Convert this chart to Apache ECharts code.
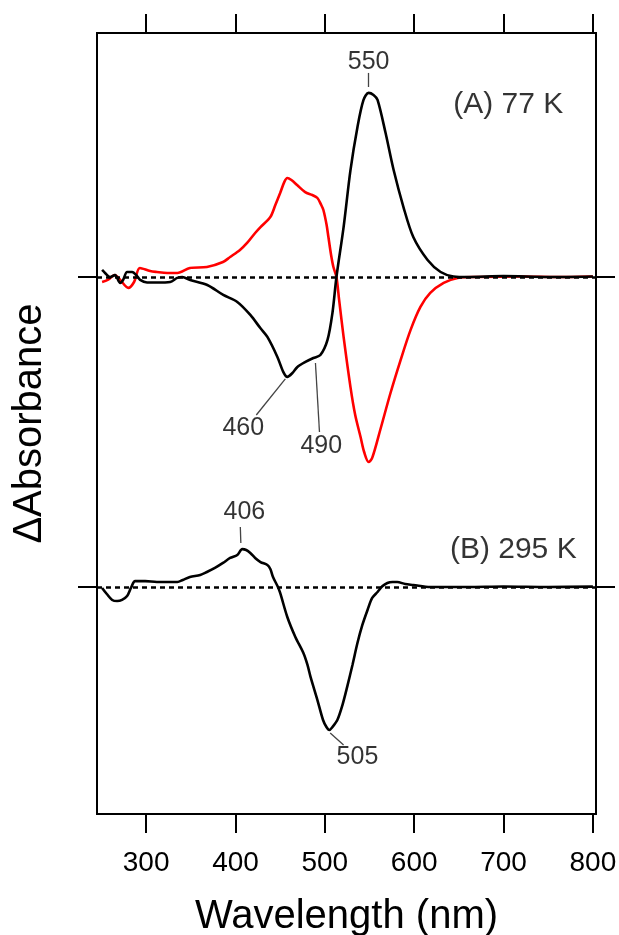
<!DOCTYPE html>
<html>
<head>
<meta charset="utf-8">
<script src="https://cdn.jsdelivr.net/npm/echarts@6/dist/echarts.min.js"></script>
<style>
html,body{margin:0;padding:0;background:#fff}
#chart{width:619px;height:935px}
</style>
</head>
<body>
<div id="chart"></div>
<script>
var FONT = '"Liberation Sans", Arial, sans-serif';

// tick labels of the wavelength axis
var xTicks = [300, 400, 500, 600, 700, 800];

// (A) 77 K, black trace
var blackA_nm = [250.7,254,259.6,265.2,270.9,274.2,278.7,284.3,289.9,293.3,301,312.3,326.9,334.8,340.4,349.3,368.4,386.3,402,416.6,427.8,435.7,446.9,453.6,458,463.7,469.3,478.3,487.2,495,503,508.5,513,521,528.7,536.5,543.3,549,554.5,559,568,577,588,599,615,629.6,644,660,700,750,800];
var blackA_val = [0.038,0.022,0,0.01,-0.032,-0.016,0.027,0.027,0.005,-0.016,-0.03,-0.03,-0.027,-0.005,0,-0.016,-0.043,-0.097,-0.135,-0.205,-0.276,-0.324,-0.432,-0.514,-0.54,-0.519,-0.486,-0.459,-0.438,-0.422,-0.34,-0.195,0,0.27,0.578,0.81,0.957,0.995,0.984,0.957,0.778,0.578,0.378,0.216,0.092,0.027,0.003,0,0.005,0,0.003];

// (A) 77 K, red trace
var redA_nm = [250.7,257,265,271,280,286.5,293,304.5,312,323.5,335,349,368,386,394,405,413,422,428,439,444.6,450,454.7,458,462.6,469,478,486,491.7,496,498.4,502,504,507,509.6,513,516,521,528.7,534,540,544,549,553,562,573.5,584.8,596,607,618,633,648.7,670,720,760,800];
var redA_val = [-0.027,-0.016,0.011,-0.016,-0.059,-0.027,0.049,0.032,0.027,0.022,0.022,0.049,0.054,0.081,0.108,0.146,0.184,0.238,0.27,0.324,0.389,0.454,0.514,0.535,0.524,0.497,0.459,0.443,0.427,0.389,0.362,0.281,0.216,0.119,0.054,0,-0.124,-0.324,-0.595,-0.746,-0.865,-0.946,-1.0,-0.978,-0.827,-0.627,-0.449,-0.286,-0.162,-0.086,-0.032,-0.005,0,0.003,0,0.003];

// (B) 295 K, black trace
var blackB_nm = [250.7,256,262,267.5,273,278.7,283,287.7,299,312,323.5,335,341,349,360.5,368,377,386,394,402,407.6,412,416.6,422,428,435.7,439,442,447,450,458,467,476,480.5,484,491.7,498,501.8,505,508.5,514,519.7,525,531,536.5,542,547.8,553,559,564.6,570,575.8,581,590,599,618,660,700,750,800];
var blackB_val = [-0.005,-0.038,-0.07,-0.076,-0.07,-0.049,-0.005,0.032,0.032,0.027,0.027,0.027,0.038,0.054,0.065,0.081,0.103,0.13,0.157,0.173,0.205,0.2,0.184,0.157,0.135,0.119,0.097,0.054,0.005,-0.032,-0.162,-0.27,-0.357,-0.42,-0.486,-0.611,-0.719,-0.757,-0.773,-0.757,-0.719,-0.638,-0.54,-0.42,-0.303,-0.205,-0.124,-0.059,-0.027,0.005,0.022,0.027,0.027,0.016,0.011,0,0,0.003,0,0.002];

// peak labels: [nm, value, text]
var labelsA = [[549, 1.162, '550'], [408.7, -0.816, '460'], [496, -0.914, '490']];
var labelsB = [[410, 0.405, '406'], [536.5, -0.919, '505']];
// leader lines: [nm1, v1, nm2, v2]
var leadersA = [[549, 1.027, 549, 1.103], [423.3, -0.746, 455.8, -0.551], [489.5, -0.465, 494, -0.838]];
var leadersB = [[405.4, 0.324, 406, 0.238], [506, -0.789, 521, -0.854]];
// panel titles
var titleA = [[643.6, 0.93, '(A) 77 K']];
var titleB = [[640, 0.2, '(B) 295 K']];

var yRangeA = [-2.9027, 1.3189];
var yRangeB = [-1.227, 2.9946];

function zip(a, b) {
  var out = [];
  for (var i = 0; i < a.length; i++) out.push([a[i], b[i]]);
  return out;
}

function leaderData(arr) {
  return arr.map(function (l) {
    return [{coord: [l[0], l[1]]}, {coord: [l[2], l[3]]}];
  });
}

var zeroLine = {
  silent: true,
  symbol: ['none', 'none'],
  label: {show: false},
  lineStyle: {type: [5, 4], color: '#000', width: 2.5},
  emphasis: {disabled: true},
  data: [{yAxis: 0}]
};

function xAxisCfg(pos, showLabel) {
  return {
    type: 'value', position: pos, min: 245, max: 803.5,
    axisLine: {show: true, onZero: false, lineStyle: {color: '#000', width: 2}},
    axisTick: {show: true, inside: false, length: 19, customValues: xTicks, lineStyle: {color: '#000', width: 2}},
    axisLabel: {show: showLabel, customValues: xTicks, color: '#000', fontSize: 28, fontFamily: FONT, margin: 35},
    splitLine: {show: false}
  };
}

function yAxisCfg(pos, range) {
  return {
    type: 'value', position: pos, min: range[0], max: range[1],
    axisLine: {show: true, onZero: false, lineStyle: {color: '#000', width: 2}},
    axisTick: {show: true, inside: false, length: 19, customValues: [0], lineStyle: {color: '#000', width: 2}},
    axisLabel: {show: false},
    splitLine: {show: false}
  };
}

var xBottom = xAxisCfg('bottom', true);
xBottom.name = 'Wavelength (nm)';
xBottom.nameLocation = 'middle';
xBottom.nameGap = 83;
xBottom.nameTextStyle = {fontSize: 40, color: '#000', fontFamily: FONT};

var yLeftA = yAxisCfg('left', yRangeA);
yLeftA.name = '\u0394Absorbance';
yLeftA.nameLocation = 'middle';
yLeftA.nameGap = 47;
yLeftA.nameTextStyle = {fontSize: 40, color: '#000', fontFamily: FONT};

var textLabel = function (size) {
  return {
    show: true, position: 'inside', color: '#000', fontSize: size, fontFamily: FONT,
    formatter: function (p) { return p.value[2]; }
  };
};

var option = {
  animation: false,
  backgroundColor: '#fff',
  grid: {left: 97, right: 23, top: 33, bottom: 121, containLabel: false, outerBoundsMode: 'none'},
  xAxis: [xBottom, xAxisCfg('top', false)],
  yAxis: [yLeftA, yAxisCfg('left', yRangeB), yAxisCfg('right', yRangeA), yAxisCfg('right', yRangeB)],
  series: [
    {
      name: 'A black', type: 'line', xAxisIndex: 0, yAxisIndex: 0,
      data: zip(blackA_nm, blackA_val), showSymbol: false, smooth: 0.3,
      lineStyle: {color: '#000', width: 2.6}, z: 3,
      markLine: zeroLine
    },
    {
      name: 'A red', type: 'line', xAxisIndex: 0, yAxisIndex: 0,
      data: zip(redA_nm, redA_val), showSymbol: false, smooth: 0.3,
      lineStyle: {color: '#ff0000', width: 2.6}, z: 2
    },
    {
      name: 'B black', type: 'line', xAxisIndex: 0, yAxisIndex: 1,
      data: zip(blackB_nm, blackB_val), showSymbol: false, smooth: 0.3,
      lineStyle: {color: '#000', width: 2.6}, z: 3,
      markLine: zeroLine
    },
    {
      name: 'A labels', type: 'scatter', xAxisIndex: 0, yAxisIndex: 0,
      symbolSize: 0, data: labelsA, label: textLabel(25), silent: true,
      markLine: {
        silent: true, symbol: ['none', 'none'], label: {show: false},
        lineStyle: {type: 'solid', color: '#444', width: 1.3},
        data: leaderData(leadersA)
      }
    },
    {
      name: 'B labels', type: 'scatter', xAxisIndex: 0, yAxisIndex: 1,
      symbolSize: 0, data: labelsB, label: textLabel(25), silent: true,
      markLine: {
        silent: true, symbol: ['none', 'none'], label: {show: false},
        lineStyle: {type: 'solid', color: '#444', width: 1.3},
        data: leaderData(leadersB)
      }
    },
    {
      name: 'A title', type: 'scatter', xAxisIndex: 0, yAxisIndex: 0,
      symbolSize: 0, data: titleA, silent: true,
      label: {show: true, position: 'right', distance: 0, color: '#000', fontSize: 30, fontFamily: FONT,
        formatter: function (p) { return p.value[2]; }}
    },
    {
      name: 'B title', type: 'scatter', xAxisIndex: 0, yAxisIndex: 1,
      symbolSize: 0, data: titleB, silent: true,
      label: {show: true, position: 'right', distance: 0, color: '#000', fontSize: 30, fontFamily: FONT,
        formatter: function (p) { return p.value[2]; }}
    }
  ]
};

var myChart = echarts.init(document.getElementById('chart'));
myChart.setOption(option);
</script>
</body>
</html>
